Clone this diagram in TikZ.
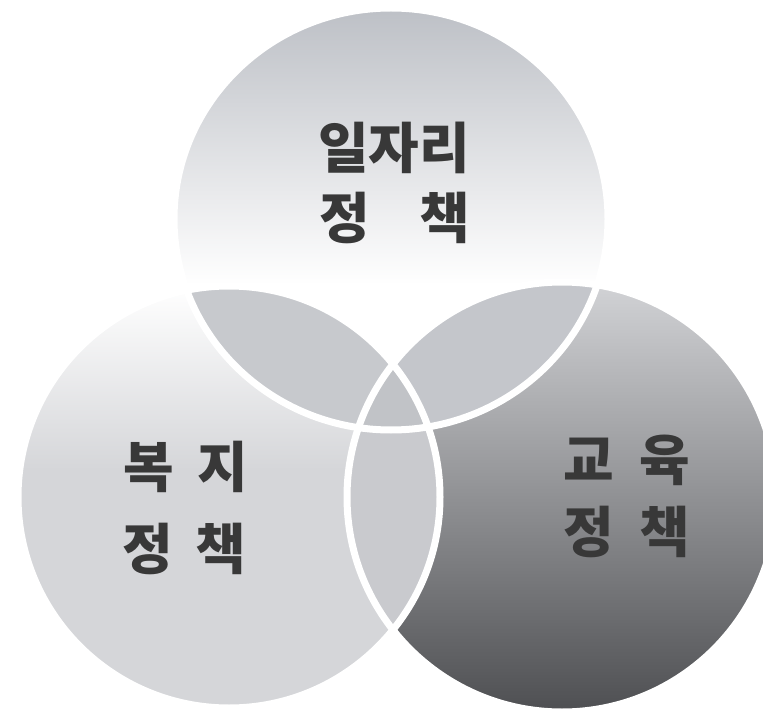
\documentclass[tikz,border=0pt]{standalone}
\usepackage{fontspec}
\newfontfamily\krfont{Noto Sans CJK KR}
\definecolor{ttop}{HTML}{BDC0C6}
\definecolor{lgray}{HTML}{D5D6D9}
\definecolor{rtop}{HTML}{D2D3D6}
\definecolor{rmid}{HTML}{86878A}
\definecolor{rbot}{HTML}{4E4F52}
\definecolor{lensTL}{HTML}{C7C9CD}
\definecolor{lensTR}{HTML}{C4C6CB}
\definecolor{lensLR}{HTML}{C9CACE}
\definecolor{tri}{HTML}{C1C3C7}
\definecolor{txtgray}{HTML}{383838}
\begin{document}
\begin{tikzpicture}[x=1pt,y=-1pt,
  ring/.style={draw=white,line width=7pt},
  krlabel/.style={font=\krfont\bfseries\fontsize{55}{60}\selectfont,
    text=txtgray, inner sep=0pt, anchor=base}]
\useasboundingbox (0,0) rectangle (763,711);
\fill[white] (0,0) rectangle (763,711);
% left circle (welfare)
\begin{scope}
  \clip (229,497) circle (211);
  \shade[top color=white, bottom color=lgray] (0,286) rectangle (763,470);
  \fill[lgray] (0,469) rectangle (763,711);
\end{scope}
% right circle (education)
\begin{scope}
  \clip (562,497) circle (215);
  \shade[top color=rtop, middle color=rmid, bottom color=rbot] (300,282) rectangle (790,712);
\end{scope}
% top circle (jobs)
\begin{scope}
  \clip (391,219) ellipse [x radius=217, y radius=211];
  \shade[top color=ttop, bottom color=white] (150,8) rectangle (640,285);
  \fill[white] (150,284) rectangle (640,431);
\end{scope}
% overlaps
\begin{scope}
  \clip (391,219) ellipse [x radius=217, y radius=211];
  \fill[lensTL] (229,497) circle (211);
  \fill[lensTR] (562,497) circle (215);
\end{scope}
\begin{scope}
  \clip (229,497) circle (211);
  \fill[lensLR] (562,497) circle (215);
\end{scope}
\begin{scope}
  \clip (391,219) ellipse [x radius=217, y radius=211];
  \clip (229,497) circle (211);
  \fill[tri] (562,497) circle (215);
\end{scope}
% white outlines
\draw[ring] (391,219) ellipse [x radius=217, y radius=211];
\draw[ring] (229,497) circle (211);
\draw[ring] (562,497) circle (215);
% labels
\node[krlabel] (jobs1) at (394,169) {일자리};
\node[krlabel] (jobs2) at (394.75,239) {정\hspace{49pt}책};
\node[krlabel] (welf1) at (186,487) {복\hspace{23pt}지};
\node[krlabel] (welf2) at (184.75,569) {정\hspace{22.5pt}책};
\node[krlabel] (edu1) at (626.75,480) {교\hspace{25.5pt}육};
\node[krlabel] (edu2) at (626.75,552) {정\hspace{25.5pt}책};
\end{tikzpicture}
\end{document}
